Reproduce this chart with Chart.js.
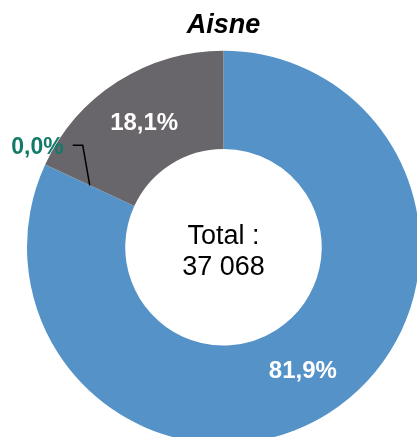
<!DOCTYPE html>
<html>
<head>
<meta charset="utf-8">
<script src="https://cdn.jsdelivr.net/npm/chart.js@4/dist/chart.umd.min.js"></script>
<style>
  html, body { margin: 0; padding: 0; background: #fff; overflow: hidden; }
  #wrap { width: 417px; height: 437px; overflow: hidden; }
</style>
</head>
<body>
<div id="wrap">
  <canvas id="chart" width="420" height="444"></canvas>
</div>
<script>
// Données du graphique
const title = 'Aisne';
const categories = ['Catégorie 1', 'Catégorie 2', 'Catégorie 3'];
const values = [30355, 5, 6708];
const colors = ['#5592c8', '#127a68', '#69666b'];
const labelColors = ['#ffffff', '#127a68', '#ffffff'];

const total = values.reduce((a, b) => a + b, 0);
const fontFamily = '"Liberation Sans", Arial, sans-serif';

function pct(v) {
    return (v / total * 100).toFixed(1).replace('.', ',') + '%';
}

function formatTotal(n) {
    return String(n).replace(/\B(?=(\d{3})+(?!\d))/g, ' ');
}

// Etiquettes des secteurs + texte central
const labelsPlugin = {
    id: 'labelsPlugin',
    afterDatasetsDraw(chart) {
        const ctx = chart.ctx;
        const meta = chart.getDatasetMeta(0);
        ctx.save();
        meta.data.forEach((arc, i) => {
            const p = arc.getCenterPoint();
            ctx.fillStyle = labelColors[i];
            ctx.textBaseline = 'middle';
            if (i === 1) {
                // petit secteur : ligne de rappel
                ctx.strokeStyle = '#000';
                ctx.lineWidth = 1.5;
                ctx.beginPath();
                ctx.moveTo(p.x, p.y);
                ctx.lineTo(p.x - 7, p.y - 40);
                ctx.lineTo(p.x - 17, p.y - 40);
                ctx.stroke();
                ctx.font = 'bold 23px ' + fontFamily;
                ctx.textAlign = 'right';
                ctx.fillText(pct(values[i]), p.x - 26, p.y - 38);
            } else {
                ctx.font = 'bold 24px ' + fontFamily;
                ctx.textAlign = 'center';
                ctx.fillText(pct(values[i]), p.x, p.y);
            }
        });

        // Total au centre
        const c = meta.data[0];
        ctx.fillStyle = '#000';
        ctx.textAlign = 'center';
        ctx.textBaseline = 'alphabetic';
        ctx.font = '27px ' + fontFamily;
        ctx.fillText('Total :', c.x, c.y - 3.5);
        ctx.fillText(formatTotal(total), c.x, c.y + 27.5);
        ctx.restore();
    }
};

new Chart(document.getElementById('chart'), {
    type: 'doughnut',
    data: {
        labels: categories,
        datasets: [{
            data: values,
            backgroundColor: colors,
            borderWidth: 0
        }]
    },
    options: {
        responsive: false,
        animation: false,
        cutout: '50%',
        layout: { padding: { left: 27, right: 0, top: 0, bottom: 0 } },
        plugins: {
            legend: { display: false },
            tooltip: { enabled: false },
            title: {
                display: true,
                text: title,
                color: '#000',
                fullSize: false,
                font: { family: fontFamily, size: 27, weight: 'bold', style: 'italic', lineHeight: 1.2 },
                padding: { top: 9, bottom: 9 }
            }
        }
    },
    plugins: [labelsPlugin]
});
</script>
</body>
</html>
